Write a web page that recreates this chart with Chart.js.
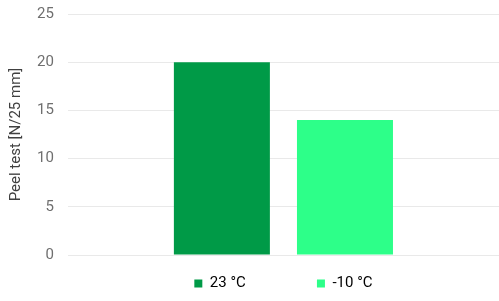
<!DOCTYPE html>
<html>
<head>
<meta charset="utf-8">
<script src="https://cdn.jsdelivr.net/npm/chart.js@4"></script>
<style>
    html, body { margin: 0; padding: 0; background: #fff; }
    #wrap { width: 499px; height: 301px; }
</style>
</head>
<body>
<div id="wrap"><canvas id="peelChart"></canvas></div>
<script>
const categories = [''];
const seriesNames = ['23 °C', '-10 °C'];
const peel23 = [20];
const peelMinus10 = [14];
const yTicks = [0, 5, 10, 15, 20, 25];

const fontFamily = 'Roboto, "Liberation Sans", sans-serif';

// wider gap between legend items, like the original
const legendGap = '\u2002'.repeat(8);

const ctx = document.getElementById('peelChart').getContext('2d');
const chart = new Chart(ctx, {
    type: 'bar',
    data: {
        labels: categories,
        datasets: [{
            label: seriesNames[0],
            data: peel23,
            backgroundColor: '#009a47',
            barPercentage: 0.78,
            categoryPercentage: 0.571
        }, {
            label: seriesNames[1],
            data: peelMinus10,
            backgroundColor: '#2dff89',
            barPercentage: 0.78,
            categoryPercentage: 0.571
        }]
    },
    options: {
        responsive: true,
        maintainAspectRatio: false,
        animation: false,
        layout: {
            padding: { top: 0, right: 0, bottom: 0, left: 7 }
        },
        plugins: {
            tooltip: { enabled: false },
            legend: {
                position: 'bottom',
                fullSize: false,
                labels: {
                    boxWidth: 8,
                    boxHeight: 8,
                    padding: 10,
                    color: '#595959',
                    font: { family: fontFamily, size: 15 },
                    generateLabels: (c) => c.data.datasets.map((ds, i) => ({
                        text: ds.label + (i < c.data.datasets.length - 1 ? legendGap : ''),
                        fillStyle: ds.backgroundColor,
                        strokeStyle: ds.backgroundColor,
                        lineWidth: 0,
                        datasetIndex: i
                    }))
                }
            }
        },
        scales: {
            x: {
                ticks: { display: false },
                grid: { display: false },
                border: { display: false },
                afterFit: (scale) => {
                    // a bit more room between the plot and the legend
                    scale.height += 3;
                }
            },
            y: {
                min: yTicks[0],
                max: yTicks[yTicks.length - 1],
                afterBuildTicks: (axis) => {
                    axis.ticks = yTicks.map(v => ({ value: v }));
                },
                ticks: {
                    padding: 5,
                    color: '#6f6f6f',
                    font: { family: fontFamily, size: 15 }
                },
                grid: {
                    color: '#e9e9e9',
                    drawTicks: true,
                    tickLength: 9,
                    tickColor: 'rgba(0,0,0,0)'
                },
                border: { display: false },
                title: {
                    display: true,
                    text: 'Peel test [N/25 mm]',
                    color: '#404040',
                    padding: { top: 0, bottom: 7 },
                    font: { family: fontFamily, size: 15 }
                }
            }
        }
    }
});
</script>
</body>
</html>
